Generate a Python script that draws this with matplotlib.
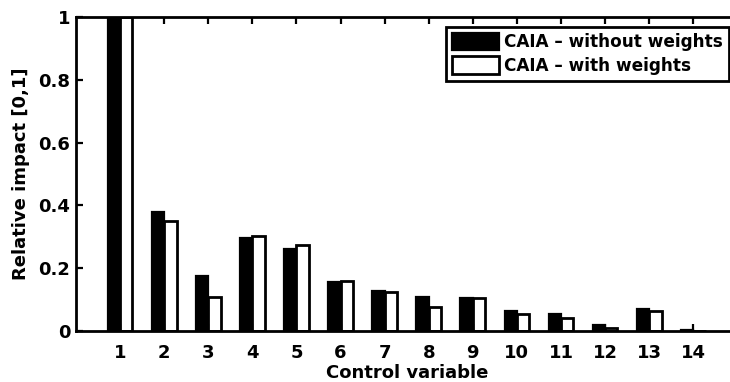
import matplotlib
matplotlib.use("Agg")
import matplotlib.pyplot as plt
import numpy as np

# Relative impact of each control variable
variables = list(range(1, 15))
without_weights = [1.0, 0.378, 0.174, 0.296, 0.260, 0.157, 0.128, 0.107, 0.105,
                   0.063, 0.054, 0.018, 0.070, 0.002]
with_weights = [1.0, 0.350, 0.107, 0.303, 0.274, 0.160, 0.123, 0.077, 0.105,
                0.053, 0.041, 0.009, 0.065, 0.001]
series_labels = ["CAIA \u2013 without weights", "CAIA \u2013 with weights"]
y_ticks = [0, 0.2, 0.4, 0.6, 0.8, 1]
y_tick_labels = ["0", "0.2", "0.4", "0.6", "0.8", "1"]

plt.rcParams["font.family"] = ["DejaVu Sans"]
plt.rcParams["font.weight"] = "bold"

W, H = 730, 382
fig = plt.figure(figsize=(W / 100, H / 100), dpi=100)
# axes box runs slightly past the right edge of the canvas
left, right, top, bottom = 76, 737.4, 17, 331
ax = fig.add_axes([left / W, 1 - bottom / H, (right - left) / W, (bottom - top) / H])

x = np.array(variables, dtype=float)
bw = 0.28
ax.bar(x - bw / 2, without_weights, width=bw, color="black", edgecolor="black",
       linewidth=1.6, label=series_labels[0])
ax.bar(x + bw / 2, with_weights, width=bw, color="white", edgecolor="black",
       linewidth=2.0, label=series_labels[1])

ax.set_xlim(0, 15)
ax.set_ylim(0, 1)
ax.set_xticks(variables)
ax.set_xticklabels([str(v) for v in variables])
ax.set_yticks(y_ticks)
ax.set_yticklabels(y_tick_labels)

fs = 13
ax.tick_params(axis="both", direction="in", length=5, width=1.6, labelsize=fs,
               top=True, right=True)
ax.tick_params(axis="x", pad=9)
ax.tick_params(axis="y", pad=4)
for s in ax.spines.values():
    s.set_linewidth(2.0)

ax.set_xlabel("Control variable", fontsize=fs, fontweight="bold", labelpad=2)
ax.set_ylabel("Relative impact [0,1]", fontsize=fs, fontweight="bold", labelpad=6)

leg = ax.legend(loc="upper right", bbox_to_anchor=(729 / W, 1 - 27 / H),
                bbox_transform=fig.transFigure, fontsize=12.2, frameon=True,
                fancybox=False, edgecolor="black", framealpha=1, borderpad=0.35,
                handlelength=2.8, handleheight=1.2, handletextpad=0.3,
                labelspacing=0.3, borderaxespad=0)
leg.get_frame().set_linewidth(2.0)
for t in leg.get_texts():
    t.set_fontweight("bold")

fig.savefig("out.png", dpi=100)
